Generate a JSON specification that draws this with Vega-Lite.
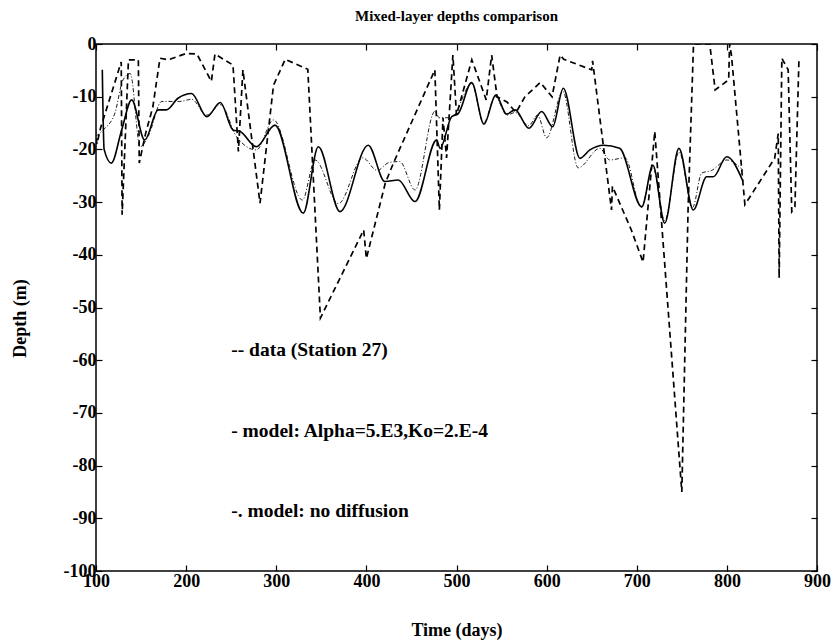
{
  "$schema": "https://vega.github.io/schema/vega-lite/v6.json",
  "width": 721,
  "height": 527,
  "autosize": {"type": "none"},
  "padding": {"left": 96, "top": 44, "right": 17, "bottom": 71},
  "background": "white",
  "title": {"text": "Mixed-layer depths comparison", "font": "Liberation Serif", "fontSize": 15, "fontWeight": "bold", "color": "black", "offset": 11},
  "config": {
    "view": {"stroke": "black", "strokeWidth": 1.5},
    "axis": {"domain": false, "grid": false, "labelFlush": false, "labelOverlap": false, "labelFont": "Liberation Serif", "labelFontSize": 18, "labelFontWeight": "bold", "labelColor": "black", "titleFont": "Liberation Serif", "titleFontSize": 18, "titleFontWeight": "bold", "titleColor": "black", "tickColor": "black", "tickSize": -6, "tickWidth": 1.2}
  },
  "datasets": {
    "obs": [
      {"day": 99, "depth": -16}, {"day": 101, "depth": -19}, {"day": 105, "depth": -16}, {"day": 128, "depth": -3.4}, {"day": 129, "depth": -32.4}, {"day": 136, "depth": -3}, {"day": 147, "depth": -3}, {"day": 148, "depth": -22.6}, {"day": 155, "depth": -17}, {"day": 163, "depth": -12}, {"day": 171, "depth": -2.7}, {"day": 180, "depth": -3}, {"day": 200, "depth": -1.8}, {"day": 212, "depth": -1.9}, {"day": 228, "depth": -7.1}, {"day": 232, "depth": -1.9}, {"day": 252, "depth": -4}, {"day": 258, "depth": -20.4}, {"day": 263, "depth": -4.9}, {"day": 282, "depth": -30.2}, {"day": 297, "depth": -7.8}, {"day": 310, "depth": -2.9}, {"day": 335, "depth": -4.8}, {"day": 349, "depth": -52}, {"day": 397, "depth": -35.3}, {"day": 400, "depth": -40.7}, {"day": 421, "depth": -26.4}, {"day": 430, "depth": -22.6}, {"day": 476, "depth": -4.9}, {"day": 481, "depth": -31.5}, {"day": 485, "depth": -14}, {"day": 489, "depth": -21.6}, {"day": 496, "depth": -2.1}, {"day": 500, "depth": -13.5}, {"day": 517, "depth": -3}, {"day": 533, "depth": -10.6}, {"day": 539, "depth": -2.1}, {"day": 545, "depth": -10}, {"day": 556, "depth": -11}, {"day": 566, "depth": -13}, {"day": 576, "depth": -10}, {"day": 593, "depth": -7.3}, {"day": 606, "depth": -10}, {"day": 615, "depth": -2.1}, {"day": 619, "depth": -2.9}, {"day": 650, "depth": -4.9}, {"day": 651, "depth": -3.2}, {"day": 672, "depth": -31.5}, {"day": 673, "depth": -27}, {"day": 694, "depth": -35.3}, {"day": 707, "depth": -41.4}, {"day": 720, "depth": -16.6}, {"day": 750, "depth": -85}, {"day": 757, "depth": -31}, {"day": 763, "depth": 0}, {"day": 781, "depth": 0}, {"day": 787, "depth": -8.7}, {"day": 802, "depth": -6.8}, {"day": 803, "depth": 0}, {"day": 805, "depth": -2}, {"day": 820, "depth": -30.5}, {"day": 853, "depth": -21.7}, {"day": 857, "depth": -17}, {"day": 858, "depth": -44.4}, {"day": 861, "depth": -2.7}, {"day": 868, "depth": -4.9}, {"day": 872, "depth": -31.8}, {"day": 875.5, "depth": -30.9}, {"day": 880, "depth": -2.7}
    ],
    "model": [
      {"day": 107, "depth": -4.9}, {"day": 109, "depth": -20}, {"day": 117, "depth": -22.6}, {"day": 128.5, "depth": -16.3}, {"day": 139.6, "depth": -10.6}, {"day": 154, "depth": -18.2}, {"day": 169, "depth": -12.5}, {"day": 178, "depth": -12.5}, {"day": 191, "depth": -10.3}, {"day": 206, "depth": -9.4}, {"day": 223, "depth": -13.8}, {"day": 238, "depth": -11.1}, {"day": 252, "depth": -16.3}, {"day": 260, "depth": -16.6}, {"day": 278, "depth": -19.5}, {"day": 298.6, "depth": -15.4}, {"day": 330, "depth": -32.1}, {"day": 346.7, "depth": -19.5}, {"day": 370.7, "depth": -31.8}, {"day": 402, "depth": -19.2}, {"day": 420.6, "depth": -26.1}, {"day": 435.4, "depth": -25.8}, {"day": 454, "depth": -29.9}, {"day": 478, "depth": -18.2}, {"day": 481.7, "depth": -19.8}, {"day": 494.6, "depth": -13.8}, {"day": 502, "depth": -13.2}, {"day": 516.8, "depth": -7.3}, {"day": 530.5, "depth": -15.2}, {"day": 543.5, "depth": -9.7}, {"day": 555.7, "depth": -13.3}, {"day": 565, "depth": -12.5}, {"day": 580.4, "depth": -16}, {"day": 594.5, "depth": -12.8}, {"day": 606.7, "depth": -15.7}, {"day": 618.5, "depth": -8.4}, {"day": 637, "depth": -21.7}, {"day": 648, "depth": -20.1}, {"day": 663, "depth": -19.2}, {"day": 681, "depth": -19.8}, {"day": 705.5, "depth": -30.9}, {"day": 718, "depth": -23}, {"day": 731, "depth": -34}, {"day": 746.8, "depth": -19.8}, {"day": 762.7, "depth": -31.5}, {"day": 777.6, "depth": -25.2}, {"day": 785, "depth": -25.2}, {"day": 799.8, "depth": -21.4}, {"day": 818, "depth": -26.1}
    ],
    "nodiff": [
      {"day": 100, "depth": -17.5}, {"day": 108, "depth": -16.3}, {"day": 121, "depth": -13.1}, {"day": 130, "depth": -6.8}, {"day": 138, "depth": -5.6}, {"day": 149, "depth": -19.5}, {"day": 158, "depth": -17.5}, {"day": 173, "depth": -10.9}, {"day": 193, "depth": -10.9}, {"day": 206, "depth": -10.5}, {"day": 223, "depth": -13.5}, {"day": 238, "depth": -11.5}, {"day": 256, "depth": -17.6}, {"day": 278, "depth": -20.1}, {"day": 297, "depth": -14.4}, {"day": 329, "depth": -29.6}, {"day": 343, "depth": -22}, {"day": 369, "depth": -30.3}, {"day": 396, "depth": -21.6}, {"day": 412, "depth": -24}, {"day": 425, "depth": -22.5}, {"day": 437, "depth": -22.3}, {"day": 454, "depth": -27.7}, {"day": 476, "depth": -12.8}, {"day": 481, "depth": -14}, {"day": 494, "depth": -14}, {"day": 517, "depth": -7.5}, {"day": 530, "depth": -15}, {"day": 543, "depth": -10}, {"day": 556, "depth": -13.5}, {"day": 565, "depth": -13}, {"day": 580, "depth": -15.5}, {"day": 590, "depth": -13.5}, {"day": 600, "depth": -17.8}, {"day": 618, "depth": -9}, {"day": 635, "depth": -23.5}, {"day": 659, "depth": -19.8}, {"day": 670, "depth": -22}, {"day": 687, "depth": -21.6}, {"day": 705, "depth": -31}, {"day": 718, "depth": -23.5}, {"day": 731, "depth": -33.5}, {"day": 747, "depth": -20.5}, {"day": 762, "depth": -31}, {"day": 772, "depth": -24.5}, {"day": 783, "depth": -24}, {"day": 800, "depth": -22}, {"day": 818, "depth": -24}
    ],
    "labels": [
      {"day": 250, "depth": -58.1, "text": "-- data (Station 27)"},
      {"day": 250, "depth": -73.4, "text": "- model: Alpha=5.E3,Ko=2.E-4"},
      {"day": 250, "depth": -88.6, "text": "-. model: no diffusion"}
    ]
  },
  "resolve": {"axis": {"x": "independent", "y": "independent"}},
  "layer": [
    {
      "data": {"name": "obs"},
      "mark": {"type": "line", "color": "black", "strokeWidth": 1.7, "strokeDash": [6, 4], "clip": true},
      "encoding": {
        "x": {"field": "day", "type": "quantitative", "scale": {"domain": [100, 900], "nice": false}, "axis": {"orient": "bottom", "title": "Time (days)", "values": [100, 200, 300, 400, 500, 600, 700, 800, 900], "labelPadding": 7, "titleY": 59, "titleBaseline": "middle"}},
        "y": {"field": "depth", "type": "quantitative", "scale": {"domain": [-100, 0], "nice": false}, "axis": {"orient": "left", "title": "Depth (m)", "values": [-100, -90, -80, -70, -60, -50, -40, -30, -20, -10, 0], "labelExpr": "toString(datum.value)", "labelPadding": 6, "titleX": -76, "titleY": 274, "titleBaseline": "middle"}},
        "order": {"field": "day", "type": "quantitative"}
      }
    },
    {
      "data": {"name": "model"},
      "mark": {"type": "line", "color": "black", "strokeWidth": 1.6, "interpolate": "monotone", "clip": true},
      "encoding": {
        "x": {"field": "day", "type": "quantitative", "axis": null},
        "y": {"field": "depth", "type": "quantitative", "axis": null}
      }
    },
    {
      "data": {"name": "nodiff"},
      "mark": {"type": "line", "color": "black", "strokeWidth": 0.9, "strokeDash": [4, 2, 1, 2], "interpolate": "monotone", "clip": true},
      "encoding": {
        "x": {"field": "day", "type": "quantitative", "axis": null},
        "y": {"field": "depth", "type": "quantitative", "axis": null}
      }
    },
    {
      "data": {"name": "labels"},
      "mark": {"type": "text", "align": "left", "baseline": "middle", "font": "Liberation Serif", "fontSize": 19.5, "fontWeight": "bold", "color": "black"},
      "encoding": {
        "x": {"field": "day", "type": "quantitative", "axis": {"orient": "top", "labels": false, "title": null, "values": [100, 200, 300, 400, 500, 600, 700, 800, 900]}},
        "y": {"field": "depth", "type": "quantitative", "axis": {"orient": "right", "labels": false, "title": null, "values": [-100, -90, -80, -70, -60, -50, -40, -30, -20, -10, 0]}},
        "text": {"field": "text"}
      }
    }
  ]
}
